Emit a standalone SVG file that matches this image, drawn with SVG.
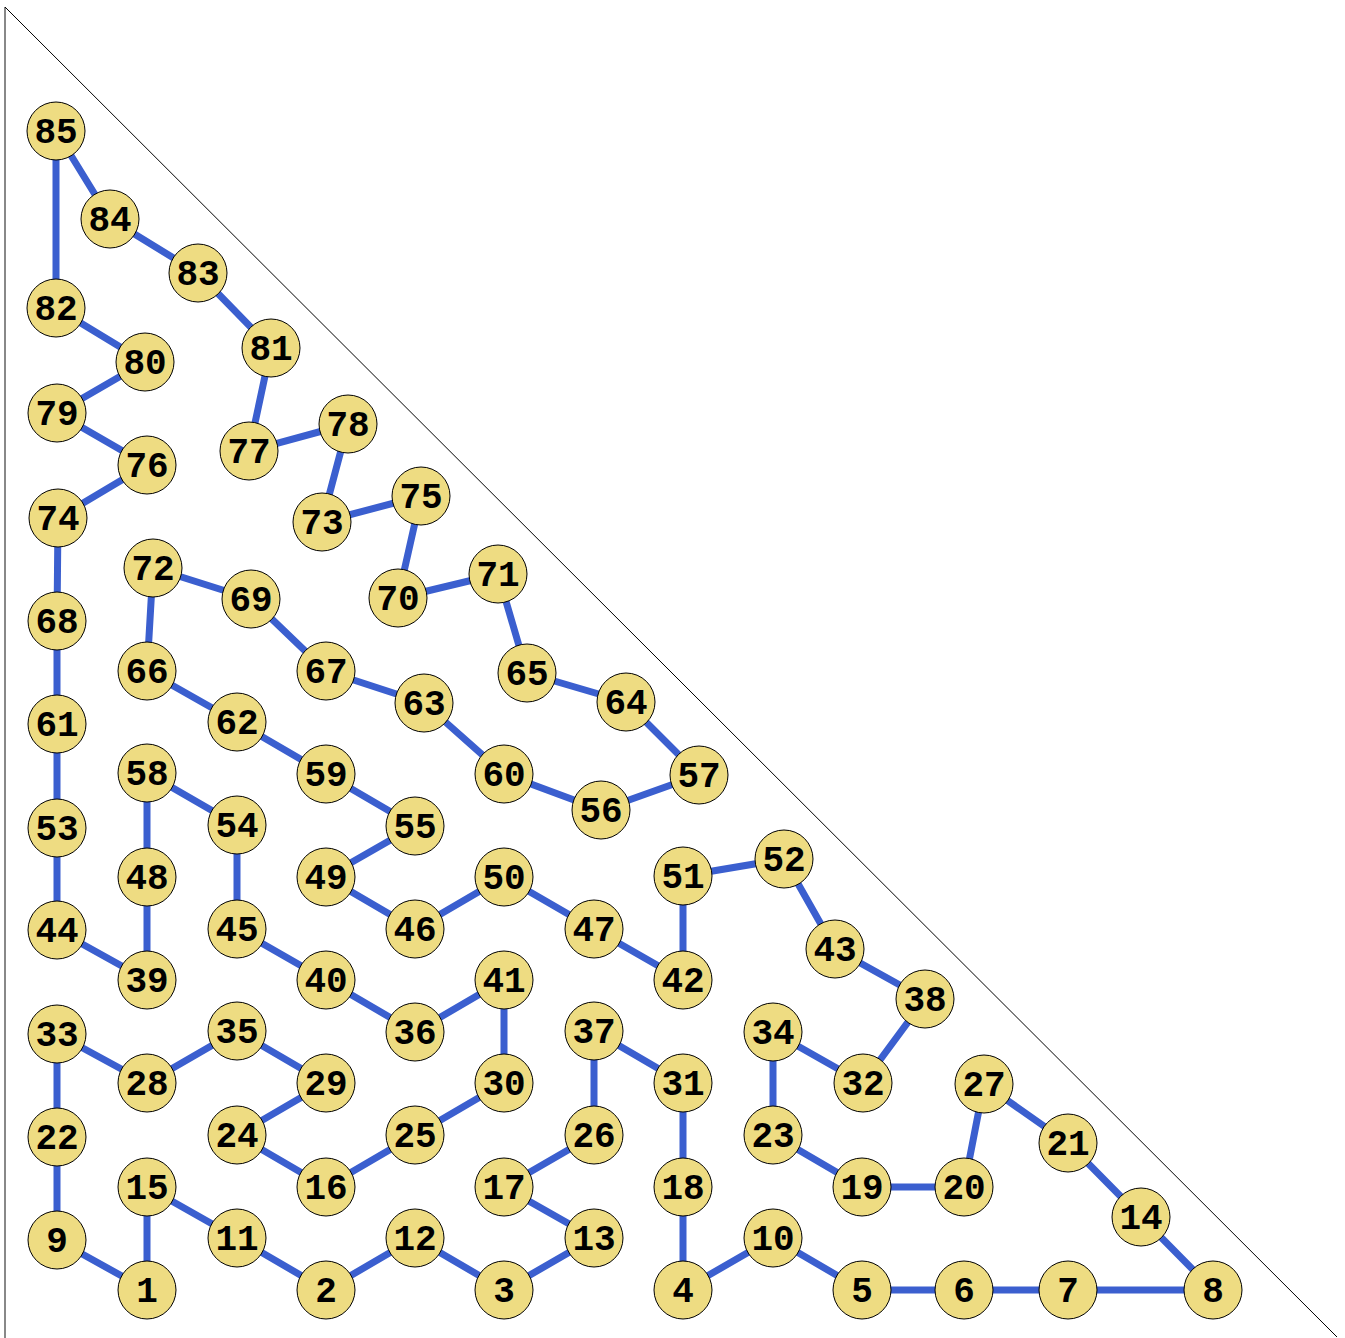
<svg xmlns="http://www.w3.org/2000/svg" width="1345" height="1338" viewBox="0 0 1345 1338">
<style>
.e{stroke:#3b5fcf;stroke-width:7;fill:none}
.n circle{fill:#eedc82;stroke:#000;stroke-width:1}
.n text{font-family:"Liberation Mono","Courier New",monospace;font-weight:bold;font-size:36px;text-anchor:middle;fill:#000}
</style>
<rect width="1345" height="1338" fill="#fff"/>
<line x1="5" y1="7" x2="5" y2="1338" stroke="#888" stroke-width="2"/>
<line x1="5" y1="7" x2="1337" y2="1337" stroke="#000" stroke-width="1"/>
<g id="connectors">
<path class="e" d="M56,131L110,219M56,131L56,308M110,219L198,273M198,273L271,348M56,308L145,362M271,348L249,451M145,362L57,413M57,413L147,465M249,451L348,424M348,424L322,522M147,465L58,518M322,522L421,496M421,496L398,598M58,518L57,621M398,598L498,574M153,568L251,599M153,568L147,671M498,574L527,673M251,599L326,671M57,621L57,724M326,671L424,703M147,671L237,722M527,673L626,702M626,702L699,775M424,703L504,774M237,722L326,774M57,724L57,828M504,774L601,810M326,774L415,826M147,773L237,825M147,773L147,877M699,775L601,810M415,826L326,877M237,825L237,929M57,828L57,930M784,859L683,876M784,859L835,949M683,876L683,980M504,877L415,929M504,877L594,929M326,877L415,929M147,877L147,980M594,929L683,980M237,929L326,980M57,930L147,980M835,949L925,999M504,980L415,1032M504,980L504,1083M326,980L415,1032M925,999L863,1083M594,1031L683,1083M594,1031L594,1135M237,1031L147,1083M237,1031L326,1083M773,1032L863,1083M773,1032L773,1135M57,1034L147,1083M57,1034L57,1137M683,1083L683,1187M504,1083L415,1135M326,1083L237,1135M984,1084L1068,1143M984,1084L964,1187M594,1135L504,1187M415,1135L326,1187M237,1135L326,1187M773,1135L862,1187M57,1137L57,1240M1068,1143L1141,1217M964,1187L862,1187M683,1187L683,1290M504,1187L594,1238M147,1187L237,1238M147,1187L147,1290M1141,1217L1213,1290M594,1238L504,1290M415,1238L326,1290M415,1238L504,1290M237,1238L326,1290M773,1238L683,1290M773,1238L862,1290M57,1240L147,1290M1213,1290L1068,1290M1068,1290L964,1290M964,1290L862,1290"/>
</g>
<g id="n85" class="n"><circle cx="56" cy="131" r="29"/><text x="56" y="143">85</text></g>
<g id="n84" class="n"><circle cx="110" cy="219" r="29"/><text x="110" y="231">84</text></g>
<g id="n83" class="n"><circle cx="198" cy="273" r="29"/><text x="198" y="285">83</text></g>
<g id="n82" class="n"><circle cx="56" cy="308" r="29"/><text x="56" y="320">82</text></g>
<g id="n81" class="n"><circle cx="271" cy="348" r="29"/><text x="271" y="360">81</text></g>
<g id="n80" class="n"><circle cx="145" cy="362" r="29"/><text x="145" y="374">80</text></g>
<g id="n79" class="n"><circle cx="57" cy="413" r="29"/><text x="57" y="425">79</text></g>
<g id="n78" class="n"><circle cx="348" cy="424" r="29"/><text x="348" y="436">78</text></g>
<g id="n77" class="n"><circle cx="249" cy="451" r="29"/><text x="249" y="463">77</text></g>
<g id="n76" class="n"><circle cx="147" cy="465" r="29"/><text x="147" y="477">76</text></g>
<g id="n75" class="n"><circle cx="421" cy="496" r="29"/><text x="421" y="508">75</text></g>
<g id="n74" class="n"><circle cx="58" cy="518" r="29"/><text x="58" y="530">74</text></g>
<g id="n73" class="n"><circle cx="322" cy="522" r="29"/><text x="322" y="534">73</text></g>
<g id="n72" class="n"><circle cx="153" cy="568" r="29"/><text x="153" y="580">72</text></g>
<g id="n71" class="n"><circle cx="498" cy="574" r="29"/><text x="498" y="586">71</text></g>
<g id="n70" class="n"><circle cx="398" cy="598" r="29"/><text x="398" y="610">70</text></g>
<g id="n69" class="n"><circle cx="251" cy="599" r="29"/><text x="251" y="611">69</text></g>
<g id="n68" class="n"><circle cx="57" cy="621" r="29"/><text x="57" y="633">68</text></g>
<g id="n67" class="n"><circle cx="326" cy="671" r="29"/><text x="326" y="683">67</text></g>
<g id="n66" class="n"><circle cx="147" cy="671" r="29"/><text x="147" y="683">66</text></g>
<g id="n65" class="n"><circle cx="527" cy="673" r="29"/><text x="527" y="685">65</text></g>
<g id="n64" class="n"><circle cx="626" cy="702" r="29"/><text x="626" y="714">64</text></g>
<g id="n63" class="n"><circle cx="424" cy="703" r="29"/><text x="424" y="715">63</text></g>
<g id="n62" class="n"><circle cx="237" cy="722" r="29"/><text x="237" y="734">62</text></g>
<g id="n61" class="n"><circle cx="57" cy="724" r="29"/><text x="57" y="736">61</text></g>
<g id="n60" class="n"><circle cx="504" cy="774" r="29"/><text x="504" y="786">60</text></g>
<g id="n59" class="n"><circle cx="326" cy="774" r="29"/><text x="326" y="786">59</text></g>
<g id="n58" class="n"><circle cx="147" cy="773" r="29"/><text x="147" y="785">58</text></g>
<g id="n57" class="n"><circle cx="699" cy="775" r="29"/><text x="699" y="787">57</text></g>
<g id="n56" class="n"><circle cx="601" cy="810" r="29"/><text x="601" y="822">56</text></g>
<g id="n55" class="n"><circle cx="415" cy="826" r="29"/><text x="415" y="838">55</text></g>
<g id="n54" class="n"><circle cx="237" cy="825" r="29"/><text x="237" y="837">54</text></g>
<g id="n53" class="n"><circle cx="57" cy="828" r="29"/><text x="57" y="840">53</text></g>
<g id="n52" class="n"><circle cx="784" cy="859" r="29"/><text x="784" y="871">52</text></g>
<g id="n51" class="n"><circle cx="683" cy="876" r="29"/><text x="683" y="888">51</text></g>
<g id="n50" class="n"><circle cx="504" cy="877" r="29"/><text x="504" y="889">50</text></g>
<g id="n49" class="n"><circle cx="326" cy="877" r="29"/><text x="326" y="889">49</text></g>
<g id="n48" class="n"><circle cx="147" cy="877" r="29"/><text x="147" y="889">48</text></g>
<g id="n47" class="n"><circle cx="594" cy="929" r="29"/><text x="594" y="941">47</text></g>
<g id="n46" class="n"><circle cx="415" cy="929" r="29"/><text x="415" y="941">46</text></g>
<g id="n45" class="n"><circle cx="237" cy="929" r="29"/><text x="237" y="941">45</text></g>
<g id="n44" class="n"><circle cx="57" cy="930" r="29"/><text x="57" y="942">44</text></g>
<g id="n43" class="n"><circle cx="835" cy="949" r="29"/><text x="835" y="961">43</text></g>
<g id="n42" class="n"><circle cx="683" cy="980" r="29"/><text x="683" y="992">42</text></g>
<g id="n41" class="n"><circle cx="504" cy="980" r="29"/><text x="504" y="992">41</text></g>
<g id="n40" class="n"><circle cx="326" cy="980" r="29"/><text x="326" y="992">40</text></g>
<g id="n39" class="n"><circle cx="147" cy="980" r="29"/><text x="147" y="992">39</text></g>
<g id="n38" class="n"><circle cx="925" cy="999" r="29"/><text x="925" y="1011">38</text></g>
<g id="n37" class="n"><circle cx="594" cy="1031" r="29"/><text x="594" y="1043">37</text></g>
<g id="n36" class="n"><circle cx="415" cy="1032" r="29"/><text x="415" y="1044">36</text></g>
<g id="n35" class="n"><circle cx="237" cy="1031" r="29"/><text x="237" y="1043">35</text></g>
<g id="n34" class="n"><circle cx="773" cy="1032" r="29"/><text x="773" y="1044">34</text></g>
<g id="n33" class="n"><circle cx="57" cy="1034" r="29"/><text x="57" y="1046">33</text></g>
<g id="n32" class="n"><circle cx="863" cy="1083" r="29"/><text x="863" y="1095">32</text></g>
<g id="n31" class="n"><circle cx="683" cy="1083" r="29"/><text x="683" y="1095">31</text></g>
<g id="n30" class="n"><circle cx="504" cy="1083" r="29"/><text x="504" y="1095">30</text></g>
<g id="n29" class="n"><circle cx="326" cy="1083" r="29"/><text x="326" y="1095">29</text></g>
<g id="n28" class="n"><circle cx="147" cy="1083" r="29"/><text x="147" y="1095">28</text></g>
<g id="n27" class="n"><circle cx="984" cy="1084" r="29"/><text x="984" y="1096">27</text></g>
<g id="n26" class="n"><circle cx="594" cy="1135" r="29"/><text x="594" y="1147">26</text></g>
<g id="n25" class="n"><circle cx="415" cy="1135" r="29"/><text x="415" y="1147">25</text></g>
<g id="n24" class="n"><circle cx="237" cy="1135" r="29"/><text x="237" y="1147">24</text></g>
<g id="n23" class="n"><circle cx="773" cy="1135" r="29"/><text x="773" y="1147">23</text></g>
<g id="n22" class="n"><circle cx="57" cy="1137" r="29"/><text x="57" y="1149">22</text></g>
<g id="n21" class="n"><circle cx="1068" cy="1143" r="29"/><text x="1068" y="1155">21</text></g>
<g id="n20" class="n"><circle cx="964" cy="1187" r="29"/><text x="964" y="1199">20</text></g>
<g id="n19" class="n"><circle cx="862" cy="1187" r="29"/><text x="862" y="1199">19</text></g>
<g id="n18" class="n"><circle cx="683" cy="1187" r="29"/><text x="683" y="1199">18</text></g>
<g id="n17" class="n"><circle cx="504" cy="1187" r="29"/><text x="504" y="1199">17</text></g>
<g id="n16" class="n"><circle cx="326" cy="1187" r="29"/><text x="326" y="1199">16</text></g>
<g id="n15" class="n"><circle cx="147" cy="1187" r="29"/><text x="147" y="1199">15</text></g>
<g id="n14" class="n"><circle cx="1141" cy="1217" r="29"/><text x="1141" y="1229">14</text></g>
<g id="n13" class="n"><circle cx="594" cy="1238" r="29"/><text x="594" y="1250">13</text></g>
<g id="n12" class="n"><circle cx="415" cy="1238" r="29"/><text x="415" y="1250">12</text></g>
<g id="n11" class="n"><circle cx="237" cy="1238" r="29"/><text x="237" y="1250">11</text></g>
<g id="n10" class="n"><circle cx="773" cy="1238" r="29"/><text x="773" y="1250">10</text></g>
<g id="n9" class="n"><circle cx="57" cy="1240" r="29"/><text x="57" y="1252">9</text></g>
<g id="n8" class="n"><circle cx="1213" cy="1290" r="29"/><text x="1213" y="1302">8</text></g>
<g id="n7" class="n"><circle cx="1068" cy="1290" r="29"/><text x="1068" y="1302">7</text></g>
<g id="n6" class="n"><circle cx="964" cy="1290" r="29"/><text x="964" y="1302">6</text></g>
<g id="n5" class="n"><circle cx="862" cy="1290" r="29"/><text x="862" y="1302">5</text></g>
<g id="n4" class="n"><circle cx="683" cy="1290" r="29"/><text x="683" y="1302">4</text></g>
<g id="n3" class="n"><circle cx="504" cy="1290" r="29"/><text x="504" y="1302">3</text></g>
<g id="n2" class="n"><circle cx="326" cy="1290" r="29"/><text x="326" y="1302">2</text></g>
<g id="n1" class="n"><circle cx="147" cy="1290" r="29"/><text x="147" y="1302">1</text></g>
</svg>
